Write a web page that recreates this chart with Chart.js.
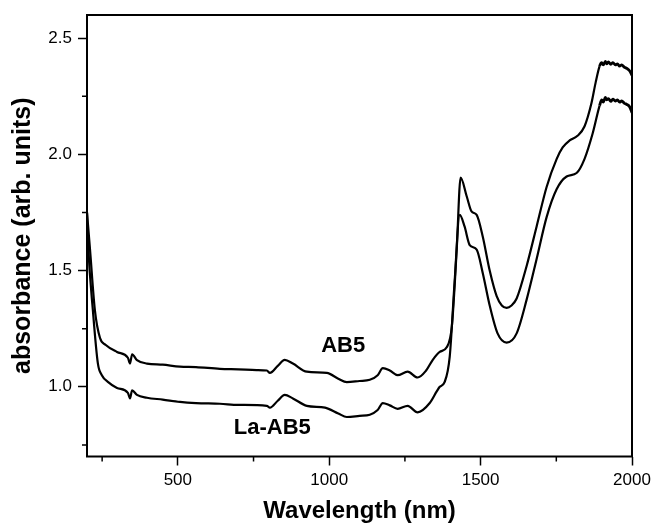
<!DOCTYPE html>
<html>
<head>
<meta charset="utf-8">
<script src="https://cdn.jsdelivr.net/npm/chart.js@4/dist/chart.umd.min.js"></script>
<style>
  html, body { margin: 0; padding: 0; background: #fff; }
  #wrap { width: 651px; height: 526px; }
</style>
</head>
<body>
<div id="wrap"><canvas id="chart-abs" width="651" height="526"></canvas></div>
<script>
// ── DATA ──────────────────────────────────────────────────────
const nmAB5  = [200, 210, 226, 243, 262, 299, 335, 342, 349, 365, 398, 450, 507, 560, 639, 700, 760, 794, 804, 830,
                853, 880, 926, 992, 1030, 1058, 1100, 1134, 1160, 1177, 1200, 1226, 1259, 1292, 1320, 1342, 1365, 1388, 1405, 1421,
                1434, 1454, 1470, 1487, 1507, 1530, 1553, 1570, 1586, 1602, 1619, 1652, 1685, 1718, 1751, 1771, 1794, 1820, 1843, 1866,
                1880, 1893, 1900, 1905, 1912, 1916, 1922, 1930, 1937, 1945, 1952, 1959, 1966, 1975, 1983, 1992, 2000];
const absAB5 = [1.75, 1.59, 1.33, 1.21, 1.18, 1.15, 1.125, 1.10, 1.14, 1.115, 1.10, 1.095, 1.087, 1.085, 1.077, 1.075, 1.072, 1.07, 1.06, 1.09,
                1.116, 1.10, 1.065, 1.06, 1.035, 1.02, 1.025, 1.03, 1.05, 1.08, 1.07, 1.05, 1.065, 1.04, 1.07, 1.116, 1.15, 1.17, 1.26, 1.59,
                1.90, 1.82, 1.755, 1.74, 1.647, 1.50, 1.39, 1.35, 1.34, 1.35, 1.38, 1.52, 1.69, 1.86, 1.98, 2.03, 2.06, 2.08, 2.12, 2.22,
                2.31, 2.38, 2.395, 2.385, 2.40, 2.39, 2.398, 2.388, 2.395, 2.385, 2.39, 2.38, 2.385, 2.375, 2.37, 2.36, 2.34];

const nmLa   = [200, 203, 220, 236, 249, 270, 299, 335, 342, 349, 365, 398, 450, 507, 560, 639, 700, 794, 804, 830,
                853, 880, 926, 986, 1030, 1058, 1100, 1134, 1160, 1177, 1200, 1226, 1259, 1292, 1332, 1355, 1365, 1381, 1398, 1414,
                1431, 1447, 1464, 1487, 1507, 1530, 1556, 1586, 1619, 1652, 1685, 1718, 1751, 1784, 1817, 1843, 1870,
                1893, 1900, 1905, 1912, 1916, 1922, 1930, 1937, 1945, 1952, 1959, 1966, 1975, 1983, 1992, 2000];
const absLa  = [1.75, 1.63, 1.32, 1.10, 1.05, 1.02, 0.995, 0.974, 0.95, 0.985, 0.965, 0.953, 0.945, 0.935, 0.93, 0.927, 0.922, 0.918, 0.91, 0.94,
                0.965, 0.95, 0.918, 0.91, 0.885, 0.87, 0.875, 0.88, 0.90, 0.93, 0.92, 0.905, 0.918, 0.89, 0.93, 0.98, 1.0, 1.02, 1.13, 1.45,
                1.74, 1.69, 1.61, 1.59, 1.49, 1.35, 1.23, 1.19, 1.23, 1.375, 1.55, 1.73, 1.85, 1.905, 1.92, 1.98, 2.09,
                2.21, 2.235, 2.225, 2.245, 2.235, 2.24, 2.228, 2.238, 2.23, 2.235, 2.225, 2.23, 2.22, 2.215, 2.205, 2.18];

const xTicks      = [500, 1000, 1500, 2000];
const xMinorTicks = [250, 750, 1250, 1750];
const yTicks      = [1.0, 1.5, 2.0, 2.5];
const yMinorTicks = [0.75, 1.25, 1.75, 2.25];

const labels = [
  { text: 'AB5',    x: 1046, y: 1.177 },
  { text: 'La-AB5', x: 812,  y: 0.825 },
];

const FONT = '"Liberation Sans", Arial, Helvetica, sans-serif';

// ── FRAME, MINOR TICKS, CURVE LABELS ──────────────────────────
const extras = {
  id: 'extras',
  afterDraw(chart) {
    const { ctx, chartArea: a, scales: { x, y } } = chart;
    ctx.save();
    ctx.strokeStyle = '#000';
    ctx.lineWidth = 2;
    ctx.strokeRect(a.left, a.top, a.right - a.left, a.bottom - a.top);

    ctx.lineWidth = 1.5;
    ctx.beginPath();
    xMinorTicks.forEach(v => {
      const px = x.getPixelForValue(v);
      ctx.moveTo(px, a.bottom); ctx.lineTo(px, a.bottom + 5);
    });
    yMinorTicks.forEach(v => {
      const py = y.getPixelForValue(v);
      ctx.moveTo(a.left, py); ctx.lineTo(a.left - 5, py);
    });
    ctx.stroke();

    ctx.fillStyle = '#000';
    ctx.font = 'bold 22px ' + FONT;
    ctx.textAlign = 'center';
    ctx.textBaseline = 'middle';
    labels.forEach(l => ctx.fillText(l.text, x.getPixelForValue(l.x), y.getPixelForValue(l.y)));
    ctx.restore();
  },
};

const series = (xs, ys) => xs.map((v, i) => ({ x: v, y: ys[i] }));
const noisyWidth = c => (c.p0.parsed.x >= 1893 ? 2.8 : 2.2);

new Chart(document.getElementById('chart-abs').getContext('2d'), {
  type: 'line',
  data: {
    datasets: [
      { label: 'AB5',    data: series(nmAB5, absAB5), borderColor: '#000', borderWidth: 2.2,
        pointRadius: 0, cubicInterpolationMode: 'monotone', segment: { borderWidth: noisyWidth } },
      { label: 'La-AB5', data: series(nmLa, absLa),   borderColor: '#000', borderWidth: 2.2,
        pointRadius: 0, cubicInterpolationMode: 'monotone', segment: { borderWidth: noisyWidth } },
    ],
  },
  options: {
    responsive: false, animation: false,
    layout: { padding: { top: 15, right: 19, left: 0, bottom: 0 } },
    plugins: { legend: { display: false }, tooltip: { enabled: false } },
    scales: {
      x: {
        type: 'linear', min: 200, max: 2000,
        afterBuildTicks: s => { s.ticks = xTicks.map(v => ({ value: v })); },
        afterFit: s => { s.height = 69.5; s.paddingLeft = 0; s.paddingRight = 0; },
        ticks: { color: '#000', font: { family: FONT, size: 17 }, padding: 5, maxRotation: 0,
                 callback: v => String(v) },
        grid: { drawOnChartArea: false, tickLength: 9, tickWidth: 1.5, color: '#000' },
        border: { display: false },
        title: { display: true, text: 'Wavelength (nm)', color: '#000',
                 font: { family: FONT, size: 24, weight: 'bold' }, padding: { top: 0, bottom: 0 } },
      },
      y: {
        type: 'linear', min: 0.7, max: 2.6,
        afterBuildTicks: s => { s.ticks = yTicks.map(v => ({ value: v })); },
        afterFit: s => { s.width = 87; s.paddingTop = 0; s.paddingBottom = 0; },
        ticks: { color: '#000', font: { family: FONT, size: 17 }, padding: 6,
                 callback: v => v.toFixed(1) },
        grid: { drawOnChartArea: false, tickLength: 9, tickWidth: 1.5, color: '#000' },
        border: { display: false },
        title: { display: true, text: 'absorbance (arb. units)', color: '#000',
                 font: { family: FONT, size: 25, weight: 'bold' }, padding: { top: 8, bottom: 0 } },
      },
    },
  },
  plugins: [extras],
});
</script>
</body>
</html>
